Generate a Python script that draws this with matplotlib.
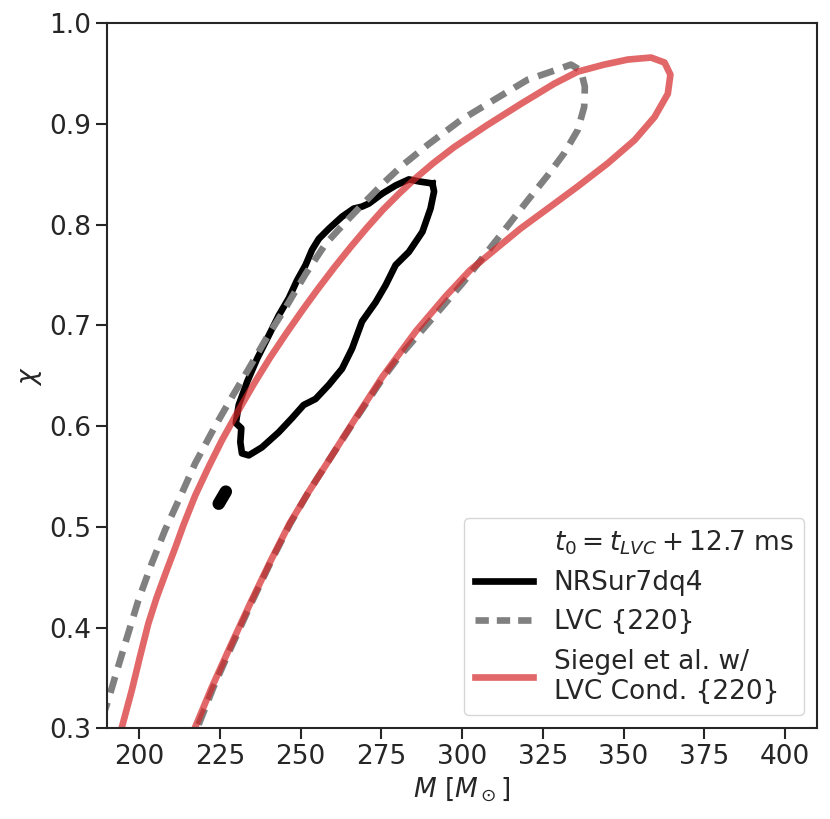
import numpy as np
import matplotlib
matplotlib.use("Agg")
import matplotlib.pyplot as plt
from matplotlib.lines import Line2D

# contour traces (M in Msun, chi)
# Siegel et al. w/ LVC Cond. {220}
red_M = [193.8, 194.6, 197.7, 200.2, 202.8, 205.4, 208.5, 211.1, 213.7, 217.3,
         221.4, 225.6, 230.8, 235.5, 240.5, 245.5, 250.5, 255.5, 260.5, 265.5,
         270.5, 275.5, 280.5, 285.5, 291.0, 297.5, 307.8, 318.2, 328.5, 335.8,
         344.0, 351.3, 358.5, 362.7, 364.5, 363.7, 359.6, 353.4, 345.1, 335.8,
         326.5, 318.0, 310.8, 302.5, 294.9, 285.6, 275.3, 267.0, 258.7, 252.5,
         246.5, 240.8, 234.5, 228.0, 222.5, 217.3, 216.5]
red_chi = [0.290, 0.301, 0.338, 0.371, 0.404, 0.430, 0.457, 0.479, 0.502, 0.531,
           0.559, 0.586, 0.616, 0.642, 0.668, 0.692, 0.715, 0.737, 0.758, 0.778,
           0.797, 0.815, 0.831, 0.846, 0.861, 0.877, 0.899, 0.920, 0.940, 0.952,
           0.959, 0.964, 0.966, 0.961, 0.949, 0.930, 0.907, 0.884, 0.861, 0.838,
           0.816, 0.796, 0.777, 0.755, 0.729, 0.694, 0.649, 0.608, 0.566, 0.535,
           0.503, 0.467, 0.425, 0.380, 0.341, 0.301, 0.290]

# LVC {220}
lvc_M = [188.5, 190.4, 192.5, 195.6, 199.7, 203.9, 208.0, 212.7, 217.3, 223.5,
         228.7, 233.9, 239.5, 245.2, 251.5, 257.7, 264.0, 270.0, 275.5, 281.5,
         289.2, 299.6, 309.9, 320.3, 328.5, 333.7, 336.8, 338.0, 337.8, 335.8,
         331.6, 326.5, 320.0, 313.9, 307.0, 300.4, 294.0, 287.0, 280.0, 275.3,
         267.0, 258.7, 252.5, 246.7, 241.0, 234.8, 228.4, 223.0, 218.3, 217.3]
lvc_chi = [0.310, 0.328, 0.351, 0.384, 0.427, 0.464, 0.497, 0.530, 0.563, 0.600,
           0.629, 0.657, 0.688, 0.717, 0.751, 0.781, 0.803, 0.823, 0.841, 0.859,
           0.879, 0.904, 0.924, 0.944, 0.953, 0.959, 0.953, 0.937, 0.917, 0.894,
           0.871, 0.849, 0.823, 0.798, 0.770, 0.743, 0.719, 0.693, 0.667, 0.647,
           0.607, 0.566, 0.535, 0.503, 0.467, 0.425, 0.380, 0.341, 0.303, 0.290]

# NRSur7dq4
nr_M = [290.8, 286.6, 283.5, 279.4, 275.3, 271.1, 269.0, 266.4, 262.8, 258.7,
        255.6, 253.5, 251.5, 248.9, 246.3, 243.2, 240.1, 236.5, 233.4, 230.8,
        229.9, 231.6, 231.3, 231.8, 233.9, 238.0, 243.2, 247.3, 250.9, 254.6,
        258.7, 262.8, 265.9, 269.0, 273.2, 276.3, 279.4, 283.5, 287.7, 290.2,
        291.3, 290.8]
nr_chi = [0.841, 0.843, 0.845, 0.839, 0.831, 0.821, 0.818, 0.816, 0.808, 0.796,
          0.786, 0.775, 0.760, 0.745, 0.727, 0.710, 0.690, 0.667, 0.644, 0.621,
          0.603, 0.598, 0.584, 0.573, 0.571, 0.579, 0.594, 0.608, 0.621, 0.627,
          0.641, 0.657, 0.677, 0.704, 0.723, 0.740, 0.760, 0.773, 0.793, 0.816,
          0.833, 0.841]

# small isolated NRSur7dq4 island
nr_blob_M = [224.6, 225.7, 226.8]
nr_blob_chi = [0.523, 0.529, 0.535]

ink = "#262626"
plt.rcParams.update({
    "font.family": "DejaVu Sans",
    "text.color": ink, "axes.labelcolor": ink,
    "xtick.color": ink, "ytick.color": ink,
    "axes.edgecolor": ink, "axes.linewidth": 1.5,
})

fig = plt.figure(figsize=(8.3, 8.19), dpi=100)
ax = fig.add_axes([107 / 830, (819 - 728.3) / 819, 710.3 / 830, 705 / 819])

lw = 4.8
ax.plot(nr_M, nr_chi, color="black", lw=lw, solid_joinstyle="round")
ax.plot(nr_blob_M, nr_blob_chi, color="black", lw=9, solid_capstyle="round")
ax.plot(lvc_M, lvc_chi, color="gray", lw=lw, dashes=(2.5, 1.5))
ax.plot(red_M, red_chi, color="#d62728", alpha=0.7, lw=lw, solid_joinstyle="round")

ax.set_xlim(190, 410)
ax.set_ylim(0.3, 1.0)
ax.set_xticks(np.arange(200, 401, 25))
ax.set_yticks(np.arange(0.3, 1.01, 0.1))
ax.tick_params(labelsize=19, length=7.7, width=1.5, direction="out")
ax.set_xlabel(r"$M$ [$M_\odot$]", fontsize=19)
ax.set_ylabel(r"$\chi$", fontsize=19)

handles = [
    Line2D([], [], color="none", label=r"$t_0 = t_{LVC} + 12.7$ ms"),
    Line2D([], [], color="black", lw=lw, label="NRSur7dq4"),
    Line2D([], [], color="gray", lw=lw, dashes=(2.0, 1.2), label="LVC {220}"),
    Line2D([], [], color="#d62728", alpha=0.7, lw=lw,
           label="Siegel et al. w/\nLVC Cond. {220}"),
]
ax.legend(handles=handles, loc="lower right", fontsize=19, handlelength=2.2,
          edgecolor="#cccccc")

fig.savefig("out.png", dpi=100)
